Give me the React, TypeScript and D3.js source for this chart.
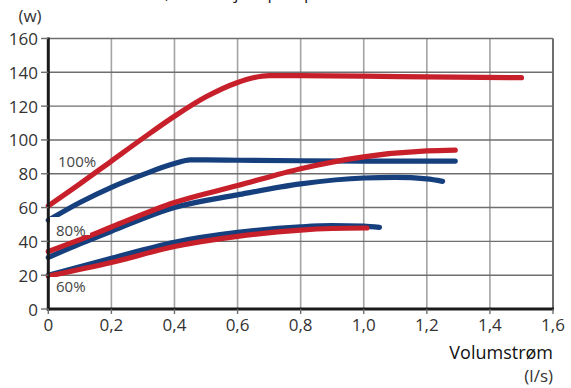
import React from "react";
import * as d3 from "d3";

const xTicks = [0, 0.2, 0.4, 0.6, 0.8, 1.0, 1.2, 1.4, 1.6];
const yTicks = [0, 20, 40, 60, 80, 100, 120, 140, 160];

const flowRed100 = [0, 0.1, 0.2, 0.3, 0.4, 0.5, 0.6, 0.65, 0.7, 0.8, 1.0, 1.2, 1.5];
const powerRed100 = [61, 74, 87.5, 101, 114, 125.5, 134, 136.8, 138, 138, 137.7, 137.3, 136.8];

const flowBlue100 = [0, 0.1, 0.2, 0.3, 0.4, 0.45, 0.5, 0.6, 0.8, 1.0, 1.29];
const powerBlue100 = [52.5, 63, 72, 79.5, 86, 88.2, 88.2, 88, 87.7, 87.5, 87.5];

const flowRed80 = [0, 0.1, 0.2, 0.4, 0.6, 0.8, 1.0, 1.2, 1.29];
const powerRed80 = [34, 41, 48.5, 63, 73, 83, 90, 93.5, 94];

const flowBlue80 = [0, 0.1, 0.2, 0.4, 0.6, 0.8, 1.0, 1.1, 1.2, 1.25];
const powerBlue80 = [30.5, 38.5, 46, 60, 67.5, 74, 77.5, 77.8, 77, 75.5];

const flowBlue60 = [0, 0.2, 0.4, 0.6, 0.8, 0.9, 1.0, 1.05];
const powerBlue60 = [20, 30, 39.5, 45.3, 48.6, 49.3, 49, 48.3];

const flowRed60 = [0, 0.2, 0.4, 0.6, 0.8, 0.9, 1.01];
const powerRed60 = [19.5, 27.5, 37, 43, 46.7, 47.6, 47.9];

const RED = "#c8202b";
const BLUE = "#163f7e";

const series = [
  { xs: flowBlue60, ys: powerBlue60, color: BLUE },
  { xs: flowBlue80, ys: powerBlue80, color: BLUE },
  { xs: flowBlue100, ys: powerBlue100, color: BLUE },
  { xs: flowRed60, ys: powerRed60, color: RED },
  { xs: flowRed80, ys: powerRed80, color: RED },
  { xs: flowRed100, ys: powerRed100, color: RED },
];

const fmt = (v: number) => (v === 0 ? "0" : v.toFixed(1).replace(".", ","));

export default function App() {
  const x = d3.scaleLinear().domain([0, 1.6]).range([48.3, 553]);
  const y = d3.scaleLinear().domain([0, 160]).range([309, 38.5]);
  const line = d3
    .line<[number, number]>()
    .x((d) => x(d[0]))
    .y((d) => y(d[1]))
    .curve(d3.curveMonotoneX);
  const font = "'Open Sans', sans-serif";

  return (
    <svg
      width={571}
      height={388}
      style={{ position: "absolute", left: 0, top: 0, background: "#fff" }}
      fontFamily={font}
    >
      <text x={60} y={-1} fontSize={17} fill="#222">Effektforbruk, sirkulasjonspumpe</text>
      {/* vertical grid */}
      {xTicks.slice(1, -1).map((t) => (
        <line key={"vx" + t} x1={x(t)} x2={x(t)} y1={y(160)} y2={y(0)} stroke="#a3a3a3" strokeWidth={1.6} />
      ))}
      {/* horizontal grid */}
      {yTicks.slice(1).map((t) => (
        <line key={"hy" + t} x1={x(0)} x2={x(1.6)} y1={y(t)} y2={y(t)} stroke="#6e6e6e" strokeWidth={1.4} />
      ))}
      {/* right border */}
      <line x1={x(1.6)} x2={x(1.6)} y1={y(160)} y2={y(0)} stroke="#6e6e6e" strokeWidth={2} />
      {/* curves */}
      {series.map((s, i) => (
        <path
          key={i}
          d={line(s.xs.map((v, j) => [v, s.ys[j]] as [number, number])) || ""}
          fill="none"
          stroke={s.color}
          strokeWidth={5.2}
          strokeLinecap="round"
          strokeLinejoin="round"
        />
      ))}
      {/* labels with white backing */}
      <rect x={50} y={217} width={40} height={18} fill="#fff" />
      <rect x={50} y={277} width={40} height={18} fill="#fff" />
      <text x={58} y={161} fontSize={15} fill="#444" dominantBaseline="central">100%</text>
      <text x={56} y={230} fontSize={15} fill="#444" dominantBaseline="central">80%</text>
      <text x={56} y={286} fontSize={15} fill="#444" dominantBaseline="central">60%</text>
      {/* axes */}
      <line x1={x(0)} x2={x(0)} y1={y(160) - 1} y2={y(0) + 1.5} stroke="#1a1a1a" strokeWidth={3} />
      <line x1={x(0) - 1.5} x2={x(1.6) + 1} y1={y(0)} y2={y(0)} stroke="#1a1a1a" strokeWidth={3} />
      {yTicks.map((t) => (
        <g key={"yt" + t}>
          <line x1={41} x2={x(0)} y1={y(t)} y2={y(t)} stroke="#6e6e6e" strokeWidth={1.4} />
          <text x={38} y={y(t)} fontSize={17} fill="#333" textAnchor="end" dominantBaseline="central">
            {t}
          </text>
        </g>
      ))}
      {xTicks.map((t) => (
        <g key={"xt" + t}>
          <line x1={x(t)} x2={x(t)} y1={y(0)} y2={y(0) + 5} stroke="#6e6e6e" strokeWidth={1.4} />
          <text x={x(t)} y={324} fontSize={17} fill="#333" textAnchor="middle" dominantBaseline="central">
            {fmt(t)}
          </text>
        </g>
      ))}
      <text x={30} y={15} fontSize={17} fill="#333" textAnchor="middle" dominantBaseline="central">(w)</text>
      <text x={553} y={359} fontSize={18} fill="#111" textAnchor="end">Volumstrøm</text>
      <text x={553} y={382} fontSize={17} fill="#333" textAnchor="end">(l/s)</text>
    </svg>
  );
}
